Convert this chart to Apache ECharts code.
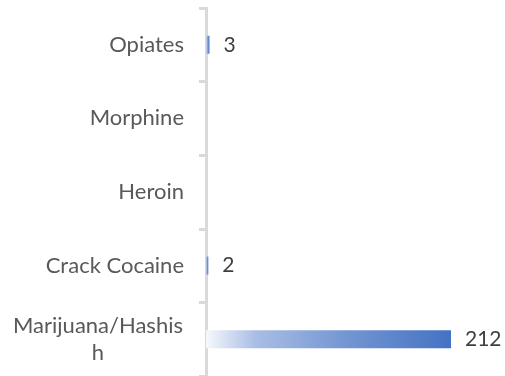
<!DOCTYPE html>
<html>
<head>
<meta charset="utf-8">
<script src="https://cdn.jsdelivr.net/npm/echarts@6/dist/echarts.min.js"></script>
<style>
  html, body { margin: 0; padding: 0; background: #fff; }
  #drugChart { width: 505px; height: 376px; }
</style>
</head>
<body>
<div id="drugChart"></div>
<script>
// categories listed bottom to top
var drugNames = ['Marijuana/Hashish', 'Crack Cocaine', 'Heroin', 'Morphine', 'Opiates'];
var drugCounts = [212, 2, null, null, 3];

var myChart = echarts.init(document.getElementById('drugChart'));

var barFill = new echarts.graphic.LinearGradient(0, 0, 1, 0, [
    { offset: 0, color: '#f6f8fc' },
    { offset: 0.2, color: '#aabee5' },
    { offset: 0.55, color: '#7698d3' },
    { offset: 1, color: '#4472c4' }
]);

var labelFont = 'Lato';

var option = {
    animation: false,
    grid: { left: 206, right: 54, top: 8, bottom: 0 },
    xAxis: {
        type: 'value',
        min: 0,
        max: 212,
        show: false
    },
    yAxis: {
        type: 'category',
        data: drugNames,
        axisLine: { lineStyle: { color: '#d9d9d9', width: 3 } },
        axisTick: { show: true, length: 7, lineStyle: { color: '#d9d9d9', width: 3 } },
        axisLabel: {
            margin: 22,
            color: '#595959',
            fontSize: 22,
            fontFamily: labelFont,
            formatter: function (name) {
                if (name === 'Marijuana/Hashish') {
                    return '{m|Marijuana/Hashis}\n{m|h}';
                }
                return name;
            },
            rich: {
                m: { width: 172, align: 'center', fontSize: 22, lineHeight: 27, color: '#595959', fontFamily: labelFont }
            }
        }
    },
    series: [{
        type: 'bar',
        data: drugCounts,
        barWidth: 18,
        itemStyle: { color: barFill },
        label: {
            show: true,
            position: 'right',
            distance: 14,
            color: '#404040',
            fontSize: 21,
            fontFamily: labelFont
        }
    }]
};
myChart.setOption(option);
</script>
</body>
</html>
